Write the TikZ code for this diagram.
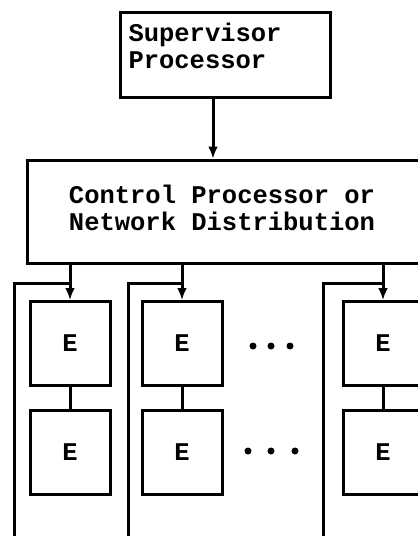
\documentclass[tikz,border=0pt]{standalone}
\usepackage{fontspec}
\newfontfamily\typewriter{Liberation Mono}
\usetikzlibrary{arrows.meta,positioning}

\begin{document}
\begin{tikzpicture}[x=1pt, y=-1pt, line width=3pt,
    box/.style={draw, rectangle, inner sep=0pt},
    tt/.style={font=\typewriter\bfseries\fontsize{25.5}{27}\selectfont, inner sep=0pt},
    feed/.style={-{Latex[length=12pt,width=10pt]}}]
  \useasboundingbox (0,0) rectangle (418,536);
  \clip (0,0) rectangle (418,536);
  % Supervisor
  \node[box, minimum width=210, minimum height=85] (sup) at (225,54.5) {};
  \node[tt, anchor=north west, align=left] (suptxt) at (127,22) {Supervisor\\Processor};
  % Control / network
  \node[box, minimum width=413, minimum height=103] (ctrl) at (233.5,211.5) {};
  \node[tt, align=center] (ctrltxt) at (222,208) {Control Processor or\\Network Distribution};
  \draw[feed] ([xshift=-12]sup.south) -- ([xshift=-12]sup.south |- ctrl.north);
  % Element columns
  \foreach \c/\x/\fx in {1/70/14, 2/182/128, 3/383/323} {
    \node[box, tt, minimum width=80, minimum height=84] (e\c-top) at (\x,343.5) {E};
    \node[box, tt, minimum width=80, minimum height=84] (e\c-bot) at (\x,452.5) {E};
    \draw (e\c-top) -- (e\c-bot);
    \draw[feed] (ctrl.south -| e\c-top) -- (e\c-top);
    \path (e\c-top.north) ++(0,-17) coordinate (join\c);
    \coordinate (foot\c) at (\fx,545);
    \draw (foot\c) |- (join\c);
  }
  % Dots
  \foreach \x in {253,271,290} {
    \fill (\x,346) circle (3.5);
  }
  \foreach \x in {248,271,295} {
    \fill (\x,451) circle (3.5);
  }
\end{tikzpicture}
\end{document}
